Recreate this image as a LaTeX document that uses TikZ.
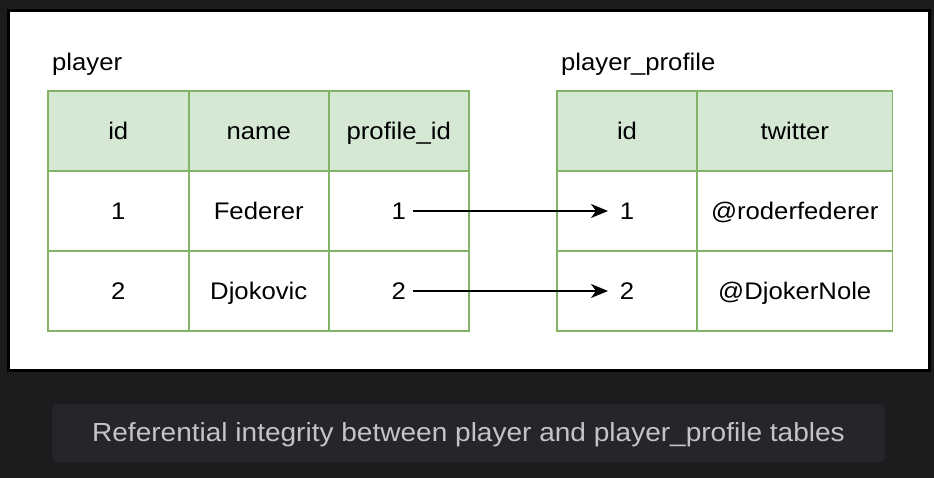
\documentclass[tikz,border=0pt]{standalone}
\usepackage{fontspec}
\setmainfont{Liberation Sans}[FakeStretch=1.07]
\usetikzlibrary{arrows.meta}
\definecolor{bgdark}{HTML}{1C1C1E}
\definecolor{hdrfill}{HTML}{D5E8D4}
\definecolor{hdrline}{HTML}{82B366}
\definecolor{capfill}{HTML}{25262A}
\definecolor{captext}{HTML}{C4C4C8}
\begin{document}
\begin{tikzpicture}[x=1bp,y=-1bp,
  txt/.style={font=\fontsize{24bp}{28bp}\selectfont},
  cell/.style={txt, draw=hdrline, line width=1.5bp, inner sep=0pt,
    minimum height=80bp, text height=17bp, text depth=0pt},
  hdr/.style={cell, fill=hdrfill},
  colA/.style={minimum width=140.5bp},
  colB/.style={minimum width=140bp},
  colC/.style={minimum width=195.5bp},
  title/.style={txt, anchor=base west, inner sep=0pt},
  link/.style={draw=black, line width=1.5bp, -{Stealth[length=17bp, width=14bp, inset=5bp]}}
]
\useasboundingbox (0,0) rectangle (934,478);
\fill[bgdark] (0,0) rectangle (934,478);
\draw[fill=white, draw=black, line width=2.5bp] (8.7,10.7) rectangle (929.5,370.5);

% titles
\node[title] (t1) at (52,71) {player};
\node[title] (t2) at (561,71) {player\_profile};

% player table
\node[hdr, colA] (h11) at (118.25,131) {id};
\node[hdr, colB] (h12) at (258.75,131) {name};
\node[hdr, colB] (h13) at (398.75,131) {profile\_id};
\node[cell, colA] (a11) at (118.25,211) {1};
\node[cell, colB] (a12) at (258.75,211) {Federer};
\node[cell, colB] (p1) at (398.75,211) {1};
\node[cell, colA] (a21) at (118.25,291) {2};
\node[cell, colB] (a22) at (258.75,291) {Djokovic};
\node[cell, colB] (p2) at (398.75,291) {2};

% player_profile table
\node[hdr, colB] (h21) at (627,131) {id};
\node[hdr, colC] (h22) at (794.75,131) {twitter};
\node[cell, colB] (q1) at (627,211) {1};
\node[cell, colC] (b12) at (794.75,211) {@roderfederer};
\node[cell, colB] (q2) at (627,291) {2};
\node[cell, colC] (b22) at (794.75,291) {@DjokerNole};

% references
\draw[link, shorten <=14bp, shorten >=19bp] (p1.center) -- (q1.center);
\draw[link, shorten <=14bp, shorten >=19bp] (p2.center) -- (q2.center);

% caption
\fill[capfill, rounded corners=6bp] (52,404) rectangle (885,462);
\node[font=\fontsize{26.2bp}{30bp}\selectfont, text=captext, anchor=base, inner sep=0pt] (cap) at (468.5,441.5) {Referential integrity between player and player\_profile tables};
\end{tikzpicture}
\end{document}
